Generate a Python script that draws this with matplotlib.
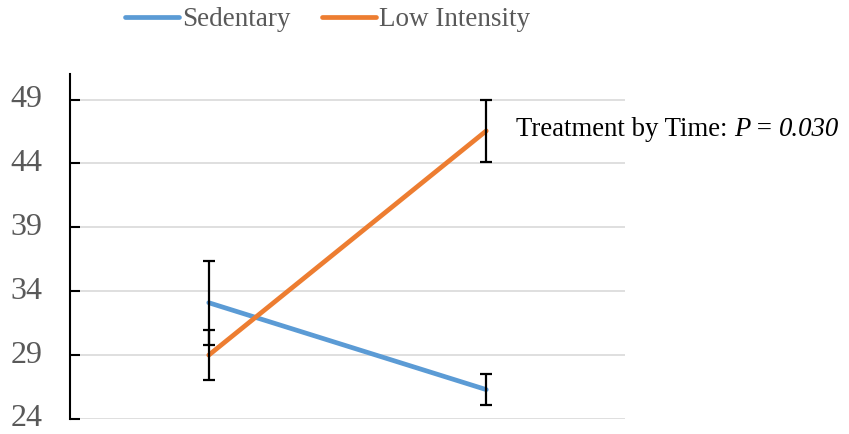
import matplotlib
matplotlib.use("Agg")
import matplotlib.pyplot as plt
from matplotlib.lines import Line2D
from matplotlib.transforms import offset_copy

plt.rcParams['font.family'] = ['Liberation Serif', 'DejaVu Serif']

time_points = ["", ""]
series_names = ["Sedentary", "Low Intensity"]
sedentary = [33.1, 26.3]
sedentary_err = [3.3, 1.2]
low_intensity = [29.0, 46.55]
low_intensity_err = [1.95, 2.45]
yticks = [24, 29, 34, 39, 44, 49]
annotation_parts = [("Treatment by Time: ", "normal"), ("P", "italic"), (" = ", "normal"), ("0.030", "italic")]

colors = ["#5B9BD5", "#ED7D31"]
grey = "#595959"

fig = plt.figure(figsize=(8.49, 4.34), dpi=100)
ax = fig.add_axes([70/849, 1-419/434, (625-70)/849, (419-74)/434])

x = list(range(len(time_points)))
for vals, errs, c in [(sedentary, sedentary_err, colors[0]), (low_intensity, low_intensity_err, colors[1])]:
    ax.plot(x, vals, color=c, lw=3.4, solid_capstyle='round', zorder=3)
    ax.errorbar(x, vals, yerr=errs, fmt='none', ecolor='black', elinewidth=1.6,
                capsize=4.5, capthick=1.6, zorder=4)

ax.set_xlim(-0.5, 1.5)
ax.set_ylim(24, 51)
ax.set_yticks(yticks)
ax.set_yticklabels([str(t) for t in yticks], fontsize=23, color=grey, va='center')
ax.set_xticks([])
ax.yaxis.grid(True, color="#D9D9D9", lw=1.2)
ax.set_axisbelow(True)
for s in ['top', 'right', 'bottom']:
    ax.spines[s].set_visible(False)
ax.spines['left'].set_color('black')
ax.spines['left'].set_linewidth(1.5)
ax.tick_params(axis='y', direction='in', length=7, width=1.5, color='black', pad=20)

handles = [Line2D([0], [0], color=c, lw=3.4, solid_capstyle='round') for c in colors]
leg = fig.legend(handles, series_names, loc='center left', bbox_to_anchor=(125/849, 1-20/434),
                 ncol=2, frameon=False, fontsize=19.5, handlelength=2.0, handletextpad=0.12,
                 columnspacing=1.15, borderaxespad=0, borderpad=0)
for t in leg.get_texts():
    t.set_color(grey)

renderer = fig.canvas.get_renderer()
tr = fig.transFigure
xpos, ypos = 516/849, 1-130/434
offset = 0.0
for txt, style in annotation_parts:
    t = fig.text(xpos, ypos, txt, fontsize=19.3, color='black', va='center', ha='left',
                 style=style, transform=offset_copy(tr, fig=fig, x=offset, y=0, units='dots'))
    offset += t.get_window_extent(renderer).width

fig.savefig("out.png", dpi=100)
